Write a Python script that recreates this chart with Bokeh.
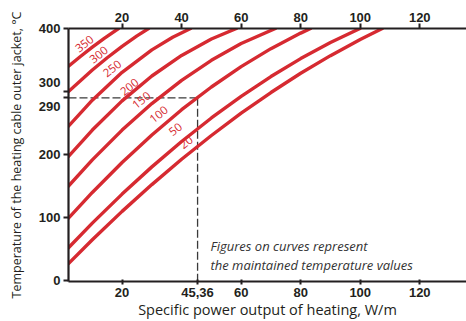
from bokeh.plotting import figure
from bokeh.models import Range1d, LinearAxis, FixedTicker
from bokeh.core.properties import value
from bokeh.embed import file_html
from bokeh.resources import INLINE

# ---- data ----
maintained = ["350", "300", "250", "200", "150", "100", "50", "20"]

power_350 = [2, 6, 10, 14, 18.8]
temp_350 = [340, 355.6, 370.4, 384.3, 400]

power_300 = [2, 10, 15, 20, 25, 28.9]
temp_300 = [300, 334.1, 353.6, 371.6, 388.2, 400]

power_250 = [2, 10, 20, 30, 37, 43]
temp_250 = [245, 286.3, 330.4, 366.1, 386, 400]

power_200 = [2, 10, 20, 30, 40, 50, 58.4]
temp_200 = [197, 238.8, 285.1, 324.6, 357.3, 383.4, 400]

power_150 = [2, 10, 20, 30, 40, 50, 60, 71.5]
temp_150 = [150, 191.5, 238.8, 280.9, 317.8, 349.5, 376.1, 400]

power_100 = [2, 10, 20, 30, 40, 50, 60, 70, 80, 83.3]
temp_100 = [99, 139.8, 187.4, 231.1, 271.1, 307.2, 339.5, 368, 392.7, 400]

power_50 = [2, 10, 20, 30, 40, 50, 60, 70, 80, 90, 99.9]
temp_50 = [52, 91.1, 137.2, 180.4, 220.7, 258, 292.3, 323.7, 352.2, 377.7, 400]

power_20 = [2, 10, 20, 30, 40, 50, 60, 70, 80, 90, 100, 107.4]
temp_20 = [27, 64.7, 109.8, 152.3, 192.5, 230.2, 265.6, 298.4, 328.9, 356.9, 382.6, 400]

example_power = 45.36
example_temp = 290

top_ticks = [20, 40, 60, 80, 100, 120]
bottom_ticks = [20, 45.36, 60, 80, 100, 120]
bottom_tick_labels = ["20", "45,36", "60", "80", "100", "120"]
left_ticks = [0, 100, 200, 290, 300, 400]
left_tick_labels = ["0", "100", "200", " \n290", "300\n ", "400"]

x_title = "Specific power output of heating, W/m"
y_title = "Temperature of the heating cable outer jacket, °C"
note_lines = ["Figures on curves represent", "the maintained temperature values"]

# ---- styling ----
RED = "#d62a31"
INK = "#231f20"

p = figure(width=466, height=321, output_backend="svg", toolbar_location=None,
           x_range=Range1d(2, 135.7), y_range=Range1d(-1.5, 400),
           x_axis_location=None, y_axis_location=None,
           min_border_left=68, min_border_right=0, min_border_top=28, min_border_bottom=39)
p.outline_line_color = None
for g in p.grid:
    g.visible = False
p.background_fill_color = "white"
p.border_fill_color = "white"


def style_axis(ax):
    ax.axis_line_color = INK
    ax.axis_line_width = 2.2
    ax.major_tick_line_color = INK
    ax.major_tick_line_width = 2
    ax.minor_tick_line_color = None
    ax.major_label_text_font = "Liberation Sans"
    ax.major_label_text_font_style = "bold"
    ax.major_label_text_font_size = "13px"
    ax.major_label_text_color = INK
    ax.axis_label_text_font = "Open Sans"
    ax.axis_label_text_font_style = "normal"
    ax.axis_label_text_font_size = "14.5px"
    ax.axis_label_text_color = INK


bottom = LinearAxis(ticker=FixedTicker(ticks=bottom_ticks),
                    major_label_overrides={t: s for t, s in zip(bottom_ticks, bottom_tick_labels)},
                    axis_label=x_title)
style_axis(bottom)
bottom.major_tick_in = 2
bottom.major_tick_out = 3
bottom.major_label_standoff = 3
bottom.axis_label_standoff = 0
p.add_layout(bottom, "below")

top = LinearAxis(ticker=FixedTicker(ticks=top_ticks))
style_axis(top)
top.major_tick_in = 0
top.major_tick_out = 5
top.major_label_standoff = 2
p.add_layout(top, "above")

left = LinearAxis(ticker=FixedTicker(ticks=left_ticks),
                  major_label_overrides={t: s for t, s in zip(left_ticks, left_tick_labels)},
                  axis_label=y_title)
style_axis(left)
left.major_tick_in = 0
left.major_tick_out = 5
left.major_label_standoff = 3
left.axis_label_standoff = 11
left.axis_label_text_font_size = "12.5px"
p.add_layout(left, "left")

# dashed example lines
p.line([2, example_power], [example_temp, example_temp], line_color="#3a3a3a",
       line_width=1.3, line_dash="8 3")
p.line([example_power, example_power], [example_temp, -1.5], line_color="#3a3a3a",
       line_width=1.3, line_dash="8 3")

# curves
curves = [(power_350, temp_350), (power_300, temp_300), (power_250, temp_250),
          (power_200, temp_200), (power_150, temp_150), (power_100, temp_100),
          (power_50, temp_50), (power_20, temp_20)]
for xs, ys in curves:
    p.line(xs, ys, line_color=RED, line_width=3.4, line_cap="round", line_join="round")

# curve labels
label_x = [7.37, 12.18, 16.68, 22.49, 26.52, 32.33, 37.94, 41.54]
label_y = [375.8, 358.4, 336.3, 307.2, 286.2, 263.6, 239.9, 219.3]
p.text(x=label_x, y=label_y, text=maintained, angle=38, angle_units="deg",
       text_align="center", text_baseline="middle", text_color=RED,
       text_font=value("Open Sans"), text_font_size="11.5px")

# note
p.text(x=[49.7, 49.7], y=[54.3, 25.4], text=note_lines,
       text_align="left", text_baseline="middle", text_color="#333333",
       text_font=value("Open Sans"), text_font_style="italic", text_font_size="13px")

open("out.html", "w").write(file_html(p, INLINE))
